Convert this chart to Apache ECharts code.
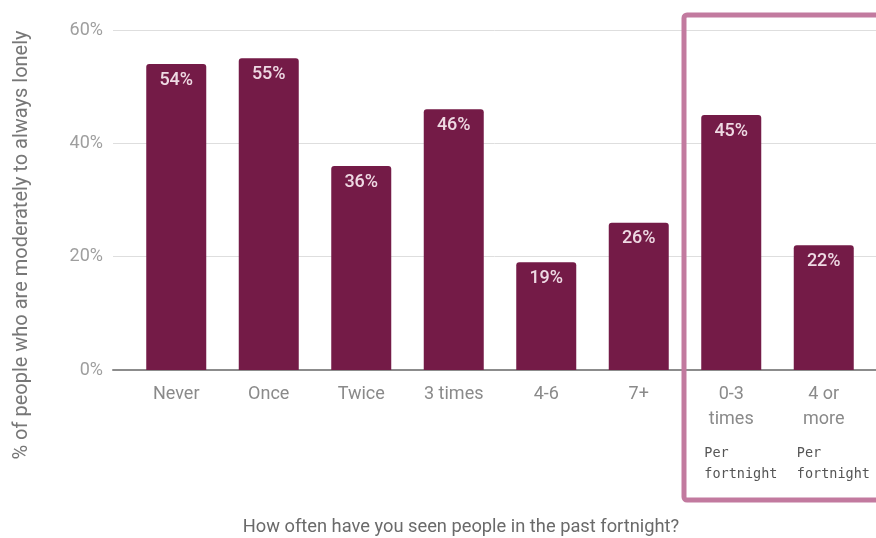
<!DOCTYPE html>
<html>
<head>
<meta charset="utf-8">
<script src="https://cdn.jsdelivr.net/npm/echarts@6/dist/echarts.min.js"></script>
<style>
  html, body { margin: 0; padding: 0; background: #fff; }
  #chart { width: 876px; height: 538px; }
</style>
</head>
<body>
<div id="chart"></div>
<script>
// Loneliness by how often people were seen in the past fortnight
const categories = ['Never', 'Once', 'Twice', '3 times', '4-6', '7+', '0-3\ntimes', '4 or\nmore'];
const lonelyPct = [54, 55, 36, 46, 19, 26, 45, 22];
const yTicks = [0, 20, 40, 60];
const groupNote = ['Per', 'fortnight'];
const groupedFrom = 6; // categories from this index are counted per fortnight
const yTitle = '% of people who are moderately to always lonely';
const xTitle = 'How often have you seen people in the past fortnight?';

const chart = echarts.init(document.getElementById('chart'), null, { renderer: 'canvas' });

const yMin = yTicks[0], yMax = yTicks[yTicks.length - 1], yStep = yTicks[1] - yTicks[0];

const option = {
  animation: false,
  backgroundColor: '#ffffff',
  grid: [
    // frame grid: tick labels, split lines, baseline
    { left: 113, right: 0, top: 30, bottom: 168, containLabel: false, outerBoundsMode: 'none' },
    // bar grid
    { left: 130, right: 6, top: 30, bottom: 168, containLabel: false, outerBoundsMode: 'none' }
  ],
  xAxis: [
    {
      gridIndex: 0, type: 'category', data: categories,
      axisLine: { show: true, lineStyle: { color: '#8c8c8c', width: 2 } },
      axisTick: { show: false }, axisLabel: { show: false }
    },
    {
      gridIndex: 1, type: 'category', data: categories,
      axisLine: { show: false }, axisTick: { show: false },
      axisLabel: {
        color: '#8a8a8a', fontFamily: 'Roboto', fontSize: 18,
        lineHeight: 25, margin: 12, interval: 0
      }
    }
  ],
  yAxis: [
    {
      gridIndex: 0, type: 'value', min: yMin, max: yMax, interval: yStep,
      axisLine: { show: false }, axisTick: { show: false },
      axisLabel: {
        formatter: v => v + '%', color: '#9e9e9e',
        fontFamily: 'Roboto', fontSize: 18, margin: 10
      },
      splitLine: { lineStyle: { color: '#dedede', width: 1 } }
    },
    {
      gridIndex: 1, type: 'value', min: yMin, max: yMax, interval: yStep,
      show: false
    }
  ],
  series: [
    {
      type: 'bar', xAxisIndex: 1, yAxisIndex: 1,
      data: lonelyPct, barWidth: 60,
      itemStyle: { color: '#741b47', borderRadius: [3, 3, 0, 0] },
      label: {
        show: true, position: 'insideTop', distance: 7,
        formatter: p => p.value + '%',
        color: '#eed9e3', fontFamily: 'Roboto', fontSize: 18, fontWeight: 500
      }
    }
  ]
};

chart.setOption(option);

// Highlight box around the per-fortnight groups, plus their notes
const leftEdge = chart.convertToPixel({ xAxisIndex: 1 }, groupedFrom - 1);
const firstGrouped = chart.convertToPixel({ xAxisIndex: 1 }, groupedFrom);
const boxX = (leftEdge + firstGrouped) / 2 - 1;
const graphics = [
  {
    type: 'rect', silent: true, z: 100,
    shape: { x: boxX, y: 15, width: 876 - boxX + 20, height: 485, r: 3 },
    style: { fill: 'none', stroke: '#c27a9f', lineWidth: 5 }
  },
  {
    // vertical axis title, set a little below the plot's centre
    type: 'text', silent: true, x: 22, y: 245, rotation: Math.PI / 2,
    style: {
      text: yTitle, fill: '#777777', font: '20px Roboto',
      align: 'center', verticalAlign: 'middle'
    }
  },
  {
    // horizontal axis title
    type: 'text', silent: true, x: 461, y: 527,
    style: {
      text: xTitle, fill: '#6a6a6a', font: '18.3px Roboto',
      align: 'center', verticalAlign: 'middle'
    }
  }
];
for (let i = groupedFrom; i < categories.length; i++) {
  const cx = chart.convertToPixel({ xAxisIndex: 1 }, i);
  groupNote.forEach((t, k) => {
    graphics.push({
      type: 'text', silent: true, z: 100,
      x: cx - 27, y: 453 + k * 21,
      style: {
        text: t, fill: '#555555', font: '13.5px "DejaVu Sans Mono"',
        verticalAlign: 'middle'
      }
    });
  });
}
chart.setOption({ graphic: graphics });
</script>
</body>
</html>
